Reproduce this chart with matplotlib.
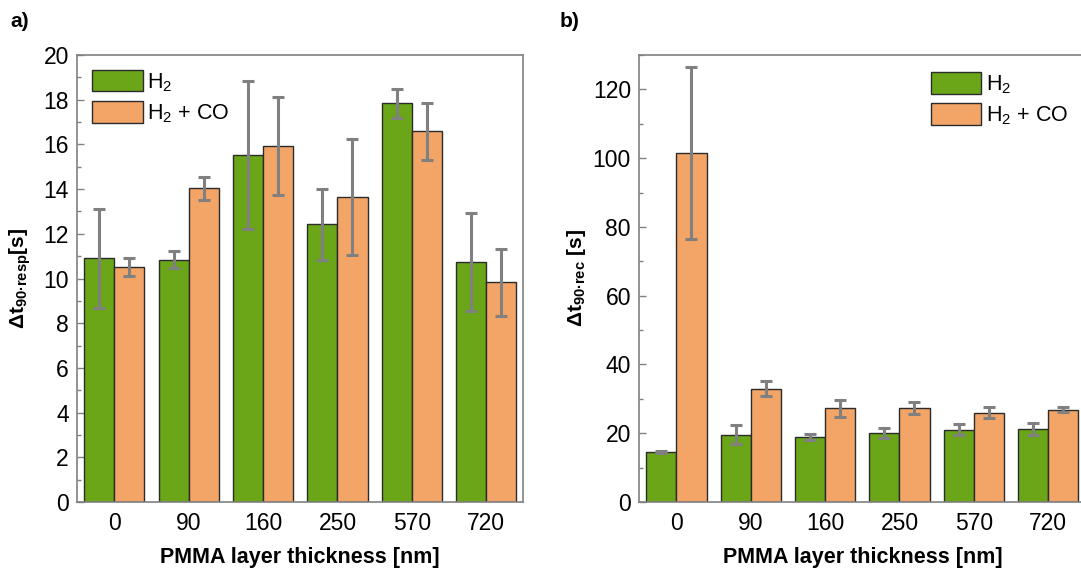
import matplotlib
matplotlib.use("Agg")
import matplotlib.pyplot as plt
import numpy as np
from matplotlib.ticker import MultipleLocator

plt.rcParams['font.family'] = ['Liberation Sans', 'DejaVu Sans']
plt.rcParams['mathtext.fontset'] = 'custom'
plt.rcParams['mathtext.rm'] = 'Liberation Sans'
plt.rcParams['mathtext.bf'] = 'Liberation Sans:bold'

categories = ['0', '90', '160', '250', '570', '720']

resp_h2 = [10.9, 10.85, 15.52, 12.42, 17.84, 10.75]
resp_h2_err = [2.2, 0.4, 3.3, 1.6, 0.65, 2.2]
resp_co = [10.52, 14.03, 15.93, 13.63, 16.58, 9.84]
resp_co_err = [0.4, 0.5, 2.2, 2.6, 1.27, 1.5]

rec_h2 = [14.5, 19.6, 19.0, 20.0, 21.0, 21.2]
rec_h2_err = [0.3, 2.7, 0.9, 1.4, 1.6, 1.7]
rec_co = [101.5, 33.0, 27.25, 27.35, 26.0, 26.9]
rec_co_err = [24.9, 2.2, 2.5, 1.8, 1.7, 0.65]

green = '#6AA617'
orange = '#F3A467'
gray = '#808080'

fig = plt.figure(figsize=(10.81, 5.70), dpi=100)
ax1 = fig.add_axes([0.0715, 0.1193, 0.4126, 0.7842])
ax2 = fig.add_axes([0.5914, 0.1193, 0.4126, 0.7842])

x = np.arange(len(categories))
w = 0.404

def draw(ax, h2, h2e, co, coe, ylim, major, minor, ylabel, leg_anchor):
    ax.bar(x - w/2, h2, w, color=green, edgecolor='#2b2b2b', linewidth=1.0, label='H$_2$', zorder=2)
    ax.bar(x + w/2, co, w, color=orange, edgecolor='#2b2b2b', linewidth=1.0, label='H$_2$ + CO', zorder=2)
    ax.errorbar(x - w/2, h2, yerr=h2e, fmt='none', ecolor=gray, elinewidth=2.2, capsize=4, capthick=2.2, zorder=3)
    ax.errorbar(x + w/2, co, yerr=coe, fmt='none', ecolor=gray, elinewidth=2.2, capsize=4, capthick=2.2, zorder=3)
    ax.set_xlim(-0.5, 5.5)
    ax.set_ylim(*ylim)
    ax.set_xticks(x)
    ax.set_xticklabels(categories)
    ax.yaxis.set_major_locator(MultipleLocator(major))
    ax.yaxis.set_minor_locator(MultipleLocator(minor))
    ax.tick_params(axis='x', length=0, pad=7, labelsize=16.5)
    ax.tick_params(axis='y', which='major', direction='in', length=5, width=1, color=gray, labelsize=16.5, pad=6)
    ax.tick_params(axis='y', which='minor', direction='in', length=3, width=1, color=gray)
    for s in ax.spines.values():
        s.set_color(gray)
        s.set_linewidth(1.2)
    ax.set_xlabel('PMMA layer thickness [nm]', fontsize=15.5, fontweight='bold', labelpad=9)
    ax.set_ylabel(ylabel, fontsize=15, fontweight='bold')
    leg = ax.legend(loc='upper left', bbox_to_anchor=leg_anchor, frameon=False, fontsize=15.5,
                    handlelength=2.35, handleheight=1.15, labelspacing=0.35, handletextpad=0.2,
                    borderaxespad=0.3)
    for p in leg.get_patches():
        p.set_edgecolor('#2b2b2b')

draw(ax1, resp_h2, resp_h2_err, resp_co, resp_co_err, (0, 20), 2, 1,
     'Δ$\\mathbf{t_{90·resp}}$[s]', (0.0, 1.0))
draw(ax2, rec_h2, rec_h2_err, rec_co, rec_co_err, (0, 130), 20, 10,
     'Δ$\\mathbf{t_{90·rec}}$ [s]', (0.62, 0.995))

ax1.yaxis.set_label_coords(-0.099, 0.5)
ax2.yaxis.set_label_coords(-0.115, 0.5)

fig.text(0.010, 0.962, 'a)', fontsize=15, fontweight='bold', va='center')
fig.text(0.518, 0.962, 'b)', fontsize=15, fontweight='bold', va='center')

fig.savefig('out.png', dpi=100)
